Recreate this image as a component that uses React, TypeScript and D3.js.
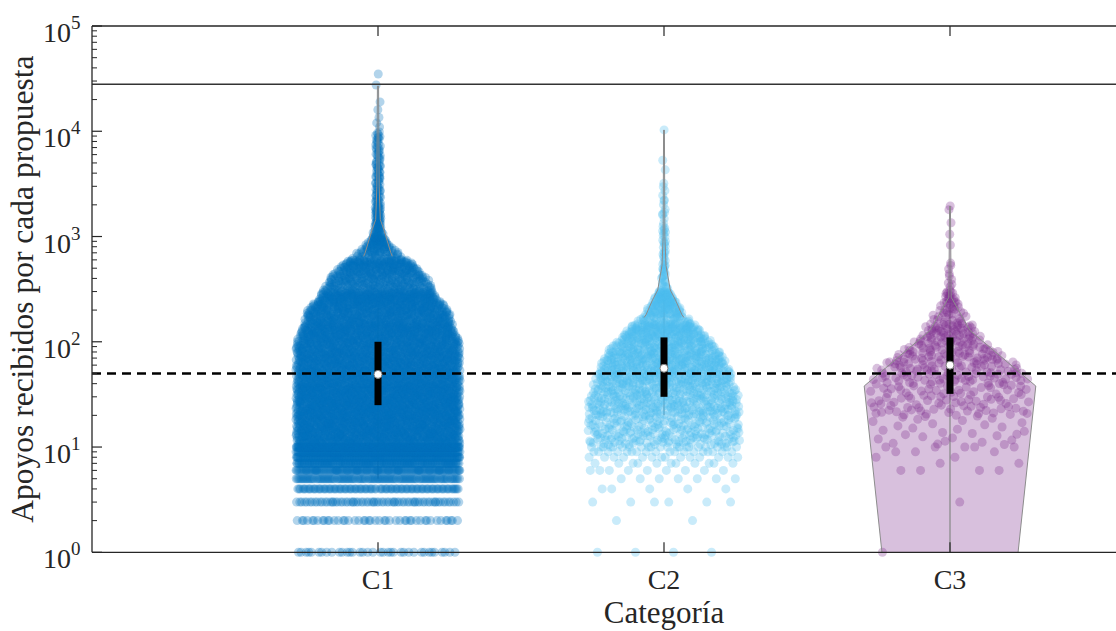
import React, { useEffect, useRef } from 'react';
import * as d3 from 'd3';

const categories = ['C1', 'C2', 'C3'];
const colors = ['#0072BD', '#4DBEEE', '#7E2F8E'];

// integer rows at the bottom of each cloud: [value, count]
const c1Rows = [[1, 36], [2, 45], [3, 70], [4, 95], [5, 120], [6, 150], [7, 175], [8, 200], [9, 220], [10, 240]];
const c2Rows = [[1, 4], [2, 2], [3, 6], [4, 5], [5, 7], [6, 9], [7, 11], [8, 14], [9, 18], [10, 22]];
const c3Rows = [[1, 1], [3, 1], [6, 4], [7, 2], [8, 2], [9, 3], [10, 5]];

// log bins above 10: [low, high, count]
const c1Bins = [[10.5, 20, 900], [20, 40, 1000], [40, 80, 900], [80, 150, 800], [150, 300, 750], [300, 600, 420], [600, 1000, 110], [1000, 2000, 60], [2000, 5000, 50], [5000, 10000, 30]];
const c2Bins = [[10.5, 20, 220], [20, 40, 330], [40, 80, 400], [80, 150, 300], [150, 300, 140], [300, 600, 22], [600, 1200, 18], [1200, 3000, 14]];
const c3Bins = [[10.5, 20, 30], [20, 40, 90], [40, 80, 130], [80, 150, 90], [150, 300, 45], [300, 600, 10]];

// single high values
const c1Outliers = [11000, 12000, 13500, 16000, 19000, 27500, 35000];
const c2Outliers = [3200, 4300, 5300, 10300];
const c3Outliers = [830, 1050, 1350, 1800, 1950];

// spread of the points (half width, category units) against value
const c1Spread = [[1, 0.287], [100, 0.287], [130, 0.266], [200, 0.248], [265, 0.203], [385, 0.178], [540, 0.126], [700, 0.073], [930, 0.025], [1300, 0.01], [40000, 0.007]];
const c2Spread = [[1, 0.266], [28, 0.266], [54, 0.23], [83, 0.196], [140, 0.115], [180, 0.073], [250, 0.038], [310, 0.014], [480, 0.006], [20000, 0.004]];
const c3Spread = [[1, 0.27], [40, 0.28], [55, 0.26], [89, 0.154], [115, 0.105], [160, 0.073], [250, 0.02], [400, 0.005], [3000, 0.004]];

// violin outlines (half width, category units)
const c1Violin = [[650, 0.05], [700, 0.045], [1150, 0.021], [1450, 0.008], [3000, 0.004], [27000, 0.002]];
const c2Violin = [[170, 0.07], [180, 0.063], [250, 0.04], [310, 0.022], [530, 0.007], [1000, 0.003], [10300, 0.0015]];
const c3Violin = [[1, 0.238], [38, 0.3], [128, 0.07], [265, 0.004], [1950, 0.0015]];

const q1s = [25, 30, 32];
const medians = [49, 56, 60];
const q3s = [100, 110, 110];
const whiskerLow = [5, 20, 1];
const whiskerHigh = [210, 250, 230];

const threshold = 28000;
const reference = 50;

const yTicks = [1, 10, 100, 1000, 10000, 100000];

const W = 1116;
const H = 631;

// low-discrepancy jitter (Halton), same as a jittered scatter but repeatable
function halton(i: number, b: number) {
  let f = 1;
  let r = 0;
  while (i > 0) {
    f /= b;
    r += f * (i % b);
    i = Math.floor(i / b);
  }
  return r;
}

function makePoints(rows: number[][], bins: number[][], outliers: number[], spread: number[][]) {
  const hw = d3.scaleLog().domain(spread.map((d) => d[0])).range(spread.map((d) => d[1])).clamp(true);
  const pts: { v: number; dx: number }[] = [];
  let k = 7;
  rows.forEach(([v, n]) => {
    for (let i = 0; i < n; i++) {
      k++;
      pts.push({ v, dx: (2 * halton(k, 2) - 1) * hw(v) });
    }
  });
  bins.forEach(([lo, hi, n]) => {
    const l0 = Math.log10(lo);
    const l1 = Math.log10(hi);
    for (let i = 0; i < n; i++) {
      k++;
      const v = Math.pow(10, l0 + halton(k, 3) * (l1 - l0));
      pts.push({ v, dx: (2 * halton(k, 2) - 1) * hw(v) });
    }
  });
  outliers.forEach((v) => {
    k++;
    pts.push({ v, dx: (2 * halton(k, 2) - 1) * hw(v) });
  });
  return pts;
}

const App = () => {
  const ref = useRef<SVGSVGElement | null>(null);

  useEffect(() => {
    const svg = d3.select(ref.current);
    svg.selectAll('*').remove();

    const x = d3.scaleLinear().domain([0, 4]).range([92, 1236]);
    const y = d3.scaleLog().domain([1, 1e5]).range([552.3, 26]);
    const axisColor = '#262626';
    const font = '"Liberation Serif", "Times New Roman", serif';

    const points = [
      makePoints(c1Rows, c1Bins, c1Outliers, c1Spread),
      makePoints(c2Rows, c2Bins, c2Outliers, c2Spread),
      makePoints(c3Rows, c3Bins, c3Outliers, c3Spread),
    ];
    const violins = [c1Violin, c2Violin, c3Violin];

    // violin fills
    violins.forEach((v, i) => {
      const c = i + 1;
      const area = d3
        .area<number[]>()
        .y((d) => y(d[0]))
        .x0((d) => x(c - d[1]))
        .x1((d) => x(c + d[1]));
      svg.append('path').attr('d', area(v)).attr('fill', colors[i]).attr('fill-opacity', 0.3);
    });

    // whiskers (under the points)
    categories.forEach((_, i) => {
      svg
        .append('line')
        .attr('x1', x(i + 1))
        .attr('x2', x(i + 1))
        .attr('y1', y(whiskerLow[i]))
        .attr('y2', y(whiskerHigh[i]))
        .attr('stroke', '#8c8c8c')
        .attr('stroke-width', 1.3);
    });

    // scatter
    points.forEach((pts, i) => {
      const c = i + 1;
      svg
        .append('g')
        .selectAll('circle')
        .data(pts)
        .enter()
        .append('circle')
        .attr('cx', (d) => x(c + d.dx))
        .attr('cy', (d) => y(d.v))
        .attr('r', 4.5)
        .attr('fill', colors[i])
        .attr('fill-opacity', 0.3);
    });

    // violin outlines
    violins.forEach((v, i) => {
      const c = i + 1;
      [-1, 1].forEach((s) => {
        const line = d3
          .line<number[]>()
          .x((d) => x(c + s * d[1]))
          .y((d) => y(d[0]));
        svg.append('path').attr('d', line(v)).attr('fill', 'none').attr('stroke', '#8c8c8c').attr('stroke-width', 1);
      });
    });

    // reference lines
    svg
      .append('line')
      .attr('x1', x(0))
      .attr('x2', x(4))
      .attr('y1', y(threshold))
      .attr('y2', y(threshold))
      .attr('stroke', '#333')
      .attr('stroke-width', 1.5);
    svg
      .append('line')
      .attr('x1', x(0))
      .attr('x2', x(4))
      .attr('y1', y(reference))
      .attr('y2', y(reference))
      .attr('stroke', '#000')
      .attr('stroke-width', 2.6)
      .attr('stroke-dasharray', '9,6');

    // boxes and medians
    categories.forEach((_, i) => {
      const cx = x(i + 1);
      svg
        .append('rect')
        .attr('x', cx - 3.5)
        .attr('width', 7)
        .attr('y', y(q3s[i]))
        .attr('height', y(q1s[i]) - y(q3s[i]))
        .attr('fill', '#000');
      svg
        .append('circle')
        .attr('cx', cx)
        .attr('cy', y(medians[i]))
        .attr('r', 4)
        .attr('fill', '#fff')
        .attr('stroke', '#808080')
        .attr('stroke-width', 1);
    });

    // axes frame
    const [x0, x1] = x.range();
    const [yb, yt] = y.range();
    svg.append('line').attr('x1', x0).attr('x2', x1).attr('y1', yb).attr('y2', yb).attr('stroke', axisColor).attr('stroke-width', 1.3);
    svg.append('line').attr('x1', x0).attr('x2', x1).attr('y1', yt).attr('y2', yt).attr('stroke', axisColor).attr('stroke-width', 1.3);
    svg.append('line').attr('x1', x0).attr('x2', x0).attr('y1', yb).attr('y2', yt).attr('stroke', axisColor).attr('stroke-width', 1.3);

    // y ticks
    yTicks.forEach((t, k) => {
      const ty = y(t);
      svg.append('line').attr('x1', x0).attr('x2', x0 + 10).attr('y1', ty).attr('y2', ty).attr('stroke', axisColor).attr('stroke-width', 1.2);
      if (k < yTicks.length - 1) {
        for (let m = 2; m <= 9; m++) {
          const my = y(t * m);
          svg.append('line').attr('x1', x0).attr('x2', x0 + 5).attr('y1', my).attr('y2', my).attr('stroke', axisColor).attr('stroke-width', 1);
        }
      }
      svg
        .append('text')
        .attr('x', 71)
        .attr('y', ty + 16)
        .attr('text-anchor', 'end')
        .attr('font-family', font)
        .attr('font-size', 28)
        .attr('fill', axisColor)
        .text('10');
      svg
        .append('text')
        .attr('x', 71)
        .attr('y', ty + 3)
        .attr('font-family', font)
        .attr('font-size', 19)
        .attr('fill', axisColor)
        .text(String(Math.round(Math.log10(t))));
    });

    // x ticks
    categories.forEach((c, i) => {
      const cx = x(i + 1);
      svg.append('line').attr('x1', cx).attr('x2', cx).attr('y1', yb).attr('y2', yb - 10).attr('stroke', axisColor).attr('stroke-width', 1.2);
      svg.append('line').attr('x1', cx).attr('x2', cx).attr('y1', yt).attr('y2', yt + 10).attr('stroke', axisColor).attr('stroke-width', 1.2);
      svg
        .append('text')
        .attr('x', cx)
        .attr('y', 589)
        .attr('text-anchor', 'middle')
        .attr('font-family', font)
        .attr('font-size', 28)
        .attr('fill', axisColor)
        .text(c);
    });

    // axis titles
    svg
      .append('text')
      .attr('x', x(2))
      .attr('y', 623)
      .attr('text-anchor', 'middle')
      .attr('font-family', font)
      .attr('font-size', 31)
      .attr('fill', axisColor)
      .text('Categoría');
    svg
      .append('text')
      .attr('transform', `translate(33, ${(yb + yt) / 2}) rotate(-90)`)
      .attr('text-anchor', 'middle')
      .attr('font-family', font)
      .attr('font-size', 31.5)
      .attr('fill', axisColor)
      .text('Apoyos recibidos por cada propuesta');
  }, []);

  return (
    <svg ref={ref} width={W} height={H} style={{ position: 'absolute', left: 0, top: 0, background: '#fff' }} />
  );
};

export default App;
